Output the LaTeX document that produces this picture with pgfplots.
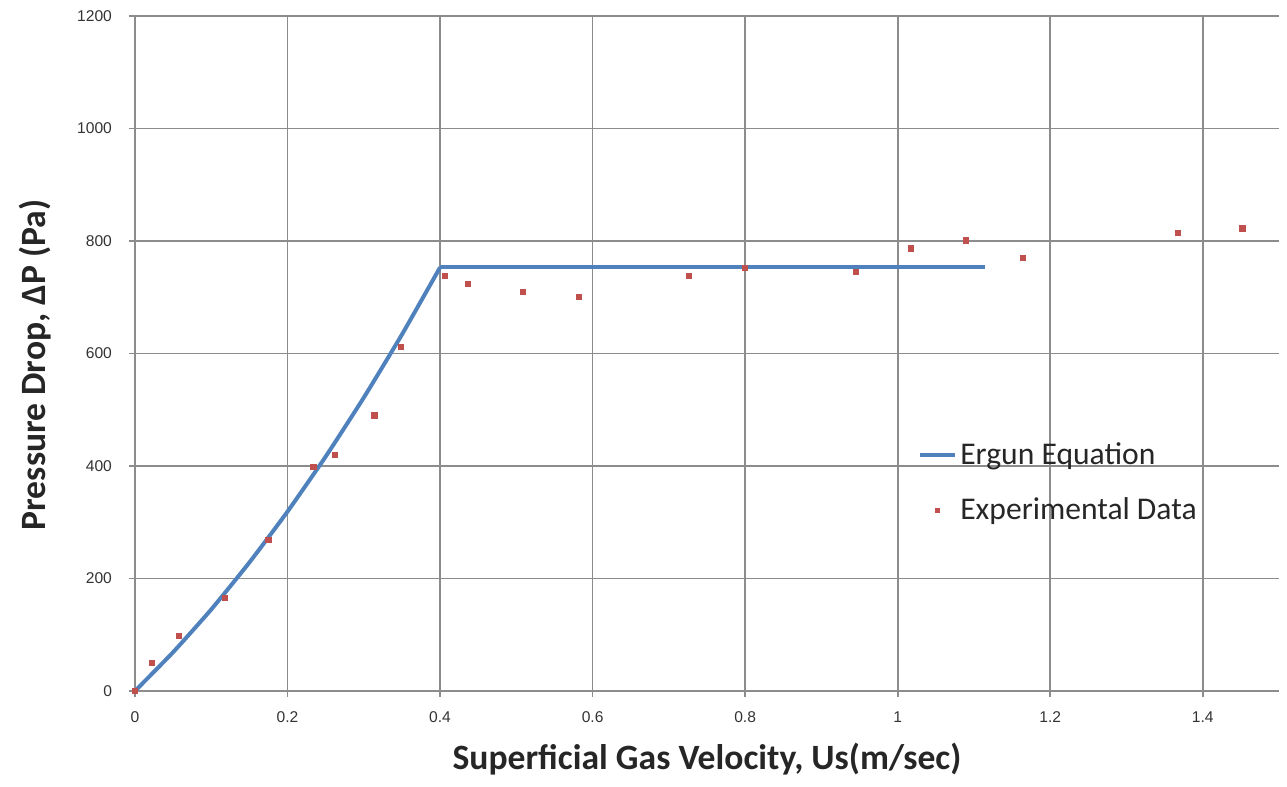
\documentclass[border=0pt]{standalone}
\usepackage{pgfplots}
\pgfplotsset{compat=1.18}
\usepackage{fontspec}
\setmainfont{Carlito}
\newfontfamily\tickfont{Liberation Sans}
\definecolor{ergblue}{HTML}{4F81BD}
\definecolor{expred}{HTML}{C0504D}
\definecolor{gridgray}{HTML}{8C8C8C}
\begin{document}
\begin{tikzpicture}
\begin{axis}[
  at={(0,0)}, anchor=south west,
  scale only axis,
  width=572pt, height=337.5pt,
  xmin=0, xmax=1.5, ymin=0, ymax=1200,
  xtick={0,0.2,...,1.4}, ytick={0,200,...,1200},
  xticklabels={0,0.2,0.4,0.6,0.8,1,1.2,1.4},
  yticklabels={0,200,400,600,800,1000,1200},
  axis line style={draw=none},
  grid=major,
  major grid style={draw=gridgray, line width=0.9pt},
  tick style={draw=gridgray, line width=0.9pt},
  tick align=outside,
  major tick length=3pt,
  xtick pos=bottom, ytick pos=left,
  ticklabel style={font=\tickfont\fontsize{7.8}{9}\selectfont, text=black!80},
  xticklabel style={yshift=-4pt},
  yticklabel style={xshift=-5pt},
  xlabel={\textbf{Superficial Gas Velocity, Us(m/sec)}},
  ylabel={\textbf{Pressure Drop, ΔP (Pa)}},
  label style={font=\fontsize{17.8}{20}\selectfont, text=black!85},
  xlabel style={yshift=-3pt},
  ylabel style={at={(ticklabel cs:0.483)}, yshift=6pt},
  legend style={draw=none, fill=none, at={(0.679,0.38)}, anchor=north west,
    font=\fontsize{15.8}{18}\selectfont, text=black!85, row sep=11pt,
    /tikz/every even column/.append style={column sep=2pt}},
  legend cell align=left,
  clip=false,
]
\addplot[ergblue, line width=2pt, smooth, tension=0.3] coordinates {
  (0,0) (0.05,69) (0.1,145) (0.15,228.5) (0.2,319) (0.25,416.7)
  (0.3,521.6) (0.35,633.7) (0.4,753)
};
\addlegendentry{Ergun Equation}
\addplot[only marks, mark=square*, mark size=1.3pt, color=expred, forget plot] coordinates {
  (0,0) (0.022,50) (0.058,98) (0.1176,165) (0.175,269) (0.234,399)
  (0.262,420) (0.314,490) (0.349,612) (0.406,738) (0.437,724)
  (0.509,710) (0.582,700) (0.726,738) (0.800,752.6) (0.945,745.5)
  (1.017,787) (1.089,801) (1.164,770) (1.367,815) (1.452,822.5)
};
\addplot[ergblue, line width=2pt, forget plot] coordinates {(0.4,753) (1.114,753)};
\addlegendimage{only marks, mark=square*, mark size=0.9pt, color=expred}
\addlegendentry{Experimental Data}
\end{axis}
\pgfresetboundingbox
\path[use as bounding box] (-67.5pt,-48pt) rectangle (576pt,345.5pt);
\end{tikzpicture}
\end{document}
